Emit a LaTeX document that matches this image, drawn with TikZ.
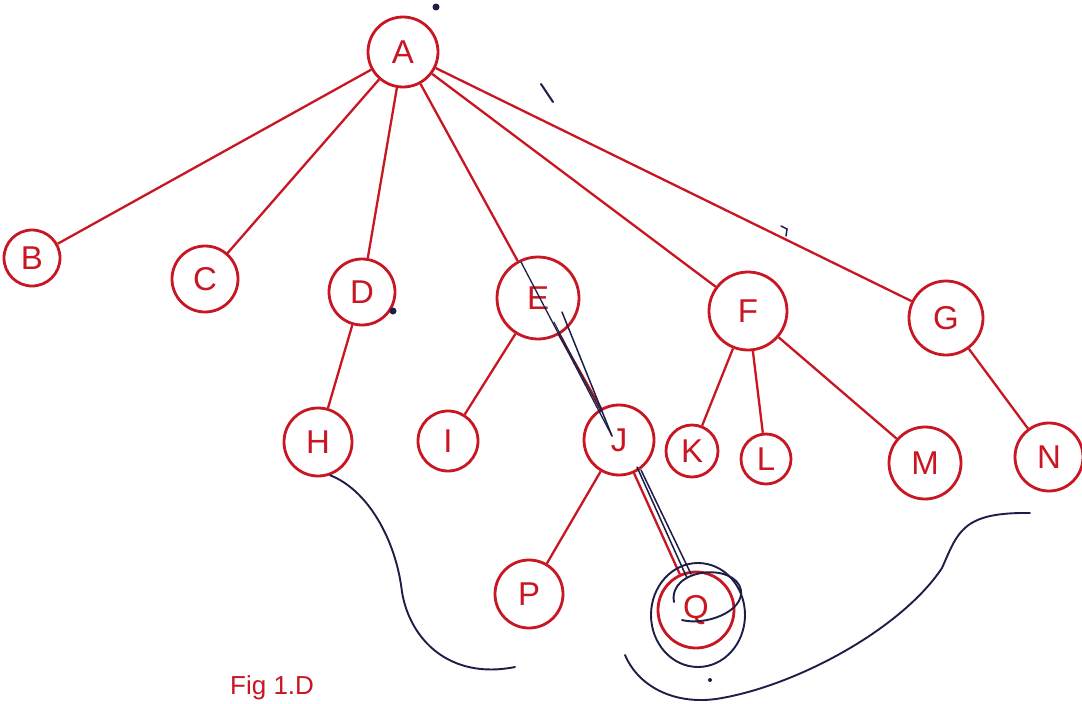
\documentclass[tikz,border=0pt]{standalone}
\usepackage{fontspec}
\setmainfont{Liberation Sans}
\definecolor{ink}{RGB}{200,22,34}
\definecolor{pen}{RGB}{28,30,72}
\begin{document}
\begin{tikzpicture}[x=1pt,y=-1pt,
  vtx/.style={circle,draw=ink,line width=2.8pt,text=ink,inner sep=0pt,
              font=\fontsize{33}{33}\selectfont},
  edge/.style={draw=ink,line width=2.3pt},
  scrib/.style={draw=pen,line width=1.9pt,line cap=round}]
\useasboundingbox (0,0) rectangle (1082,704);
\fill[white] (0,0) rectangle (1082,704);

% tree vertices
\node[vtx,minimum size=70pt] (A) at (403,52) {A};
\node[vtx,minimum size=56pt] (B) at (32,258) {B};
\node[vtx,minimum size=66pt] (C) at (205,279) {C};
\node[vtx,minimum size=66pt] (D) at (362,292) {D};
\node[vtx,minimum size=82pt] (E) at (538,298) {E};
\node[vtx,minimum size=78pt] (F) at (748,311) {F};
\node[vtx,minimum size=74pt] (G) at (946,318) {G};
\node[vtx,minimum size=68pt] (H) at (318,442) {H};
\node[vtx,minimum size=60pt] (I) at (448,441) {I};
\node[vtx,minimum size=70pt] (J) at (619,440) {J};
\node[vtx,minimum size=52pt] (K) at (692,451) {K};
\node[vtx,minimum size=50pt] (L) at (766,459) {L};
\node[vtx,minimum size=72pt] (M) at (925,463) {M};
\node[vtx,minimum size=68pt] (N) at (1049,457) {N};
\node[vtx,minimum size=68pt] (P) at (529,594) {P};
\node[vtx,minimum size=76pt] (Q) at (696,610) {Q};

% tree edges
\foreach \u/\v in {A/B,A/C,A/D,A/E,A/F,A/G,D/H,E/I,E/J,J/P,J/Q,F/K,F/L,F/M,G/N}
  \draw[edge] (\u) -- (\v);

% pen strokes retracing the path E - J - Q
\coordinate (e1) at (521,262);
\coordinate (e2) at (562,312);
\coordinate (e3) at (554,322);
\coordinate (j1) at (612,436);
\coordinate (j2) at (601,412);
\coordinate (j3) at (637,467);
\coordinate (j4) at (641,470);
\coordinate (q1) at (687,578);
\coordinate (q2) at (691,574);
\draw[scrib,line width=1.3pt] (e1) -- (j1);
\draw[scrib,line width=1.5pt] (e2) -- (j1);
\draw[scrib,line width=1pt] (e3) -- (j2);
\draw[scrib,line width=1.5pt] (j3) -- (q1);
\draw[scrib,line width=1.5pt] (j4) -- (q2);

% loops drawn around Q
\draw[scrib] (Q) ++(2,5) ellipse [x radius=47, y radius=52];
\draw[scrib] (674,602) .. controls (668,568) and (735,562) .. (741,590)
  .. controls (744,612) and (705,626) .. (682,620);

% enclosing curves under the subtree
\draw[scrib] (H.290) .. controls (368,490) and (396,540) .. (402,592)
  .. controls (410,640) and (450,680) .. (515,667);
\draw[scrib] (625,655) .. controls (640,690) and (680,706) .. (722,698)
  .. controls (800,684) and (902,628) .. (942,568)
  .. controls (958,532) and (962,512) .. (1030,513);

% small pen marks
\draw[scrib,line width=2pt] (541,84) -- (553,102);
\draw[scrib,line width=1.5pt] (781,226) -- (787,229) -- (786,236);
\fill[pen] (393,311) circle (3.5pt);
\fill[pen] (436,7) circle (3.5pt);
\fill[pen] (710,680) circle (2pt);

% caption along the lower edge
\node[anchor=north west,text=ink,inner sep=0pt,
      font=\fontsize{26}{26}\selectfont] (cap) at (230,675) {Fig 1.D};
\end{tikzpicture}
\end{document}
